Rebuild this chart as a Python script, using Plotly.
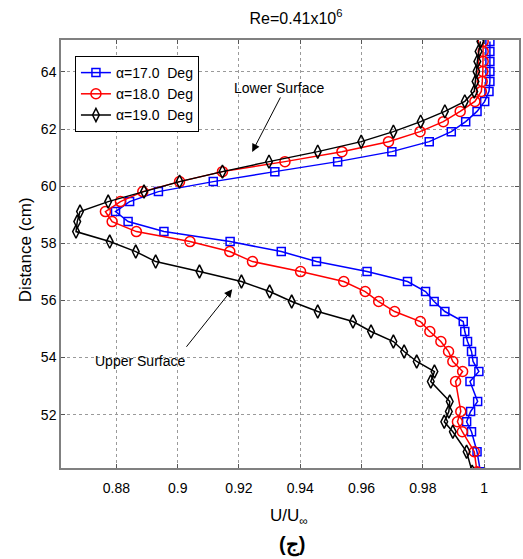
import plotly.graph_objects as go

# Measurement stations across the wake (cm)
dist_17 = [65.07, 64.72, 64.37, 64.02, 63.67, 63.32, 62.97, 62.62, 62.26, 61.91,
           61.56, 61.21, 60.86, 60.51, 60.16, 59.81, 59.46, 59.11, 58.76, 58.41,
           58.06, 57.71, 57.36, 57.01, 56.66, 56.31, 55.96, 55.61, 55.26, 54.91,
           54.56, 54.21, 53.86, 53.51, 53.16, 52.46, 52.11, 51.75, 51.40, 50.70, 50.00]
u_17 = [1.0019, 1.0019, 1.0019, 1.0019, 1.0019, 1.0016, 1.0002, 0.9977, 0.9940, 0.9893,
        0.9821, 0.9699, 0.9522, 0.9317, 0.9116, 0.8937, 0.8843, 0.8797, 0.8838, 0.8955,
        0.9171, 0.9338, 0.9453, 0.9618, 0.9750, 0.9809, 0.9837, 0.9872, 0.9932, 0.9937,
        0.9946, 0.9959, 0.9964, 0.9983, 0.9954, 0.9979, 0.9956, 0.9943, 0.9959, 0.9977, 0.9988]

dist_18 = [65.07, 64.72, 64.37, 64.02, 63.67, 63.32, 62.97, 62.62, 62.26, 61.91,
           61.56, 61.21, 60.86, 60.51, 60.16, 59.81, 59.46, 59.11, 58.76, 58.41,
           58.06, 57.71, 57.36, 57.01, 56.66, 56.31, 55.96, 55.61, 55.26, 54.91,
           54.56, 54.21, 53.86, 53.51, 53.16, 52.11, 51.75, 51.40, 50.70, 50.00]
u_18 = [0.9997, 0.9997, 0.9997, 0.9996, 0.9994, 0.9991, 0.9970, 0.9922, 0.9867, 0.9791,
        0.9688, 0.9536, 0.9350, 0.9146, 0.9006, 0.8886, 0.8813, 0.8764, 0.8786, 0.8865,
        0.9040, 0.9170, 0.9244, 0.9401, 0.9542, 0.9612, 0.9656, 0.9708, 0.9792, 0.9823,
        0.9859, 0.9884, 0.9898, 0.9930, 0.9907, 0.9924, 0.9913, 0.9929, 0.9968, 0.9977]

dist_19 = [65.07, 64.72, 64.37, 64.02, 63.67, 63.32, 62.97, 62.62, 62.26, 61.91,
           61.56, 61.21, 60.86, 60.51, 60.16, 59.81, 59.46, 59.11, 58.76, 58.41,
           58.06, 57.71, 57.36, 57.01, 56.66, 56.31, 55.96, 55.61, 55.26, 54.91,
           54.56, 54.21, 53.86, 53.51, 53.16, 52.46, 52.11, 51.75, 51.40, 50.70, 50.00]
u_19 = [0.9988, 0.9982, 0.9978, 0.9975, 0.9972, 0.9968, 0.9937, 0.9872, 0.9793, 0.9704,
        0.9599, 0.9457, 0.9298, 0.9146, 0.9006, 0.8890, 0.8773, 0.8681, 0.8672, 0.8668,
        0.8778, 0.8863, 0.8928, 0.9071, 0.9208, 0.9300, 0.9372, 0.9457, 0.9572, 0.9631,
        0.9704, 0.9739, 0.9780, 0.9838, 0.9826, 0.9888, 0.9885, 0.9870, 0.9898, 0.9943, 0.9961]

series_names = ["\u03b1=17.0  Deg", "\u03b1=18.0  Deg", "\u03b1=19.0  Deg"]
x_ticks = [0.88, 0.90, 0.92, 0.94, 0.96, 0.98, 1.00]
x_tick_text = ["0.88", "0.9", "0.92", "0.94", "0.96", "0.98", "1"]
y_ticks = [52, 54, 56, 58, 60, 62, 64]

FONT = "Liberation Sans, Arial, sans-serif"

fig = go.Figure()
fig.add_trace(go.Scatter(
    x=u_17, y=dist_17, mode="lines+markers", name=series_names[0],
    line=dict(color="#0000ff", width=1.5),
    marker=dict(symbol="square-open", size=8, color="#0000ff", line=dict(width=1.5)),
))
fig.add_trace(go.Scatter(
    x=u_18, y=dist_18, mode="lines+markers", name=series_names[1],
    line=dict(color="#ff0000", width=1.5),
    marker=dict(symbol="circle-open", size=10, color="#ff0000", line=dict(width=1.5)),
))
fig.add_trace(go.Scatter(
    x=u_19, y=dist_19, mode="lines+markers", name=series_names[2],
    line=dict(color="#000000", width=1.5),
    marker=dict(symbol="diamond-tall-open", size=9.5, color="#000000", line=dict(width=1.5)),
))

axis_common = dict(
    showgrid=True, gridcolor="#9a9a9a", gridwidth=1, griddash="dot",
    showline=True, linecolor="#808080", linewidth=1.5, mirror="ticks",
    ticks="inside", ticklen=4, tickcolor="#555555", tickwidth=1,
    zeroline=False, tickfont=dict(family=FONT, size=14, color="#000000"),
)

fig.update_xaxes(range=[0.8619, 1.0114], tickvals=x_ticks, ticktext=x_tick_text,
                 ticklabelstandoff=6, **axis_common)
fig.update_yaxes(range=[50.13, 65.12], tickvals=y_ticks, **axis_common)

W, H = 523, 559
L, R, T, B = 61, 2, 40, 91
pw, ph = W - L - R, H - T - B


def px_to_paper(px, py):
    return (px - L) / pw, (H - B - py) / ph


annotations = [
    dict(text="Lower Surface", x=0.9331, y=63.45, xref="x", yref="y", showarrow=False,
         font=dict(family=FONT, size=14, color="#000000")),
    dict(text="", x=0.9243, y=61.20, xref="x", yref="y", showarrow=True,
         ax=29, ay=-56, arrowhead=2, arrowsize=1.6, arrowwidth=1, arrowcolor="#000000"),
    dict(text="Upper Surface", x=0.8876, y=53.87, xref="x", yref="y", showarrow=False,
         font=dict(family=FONT, size=14, color="#000000")),
    dict(text="", x=0.9178, y=56.39, xref="x", yref="y", showarrow=True,
         ax=-47, ay=59, arrowhead=2, arrowsize=1.6, arrowwidth=1, arrowcolor="#000000"),
]

# axis titles and panel tag, placed in page pixels
page_labels = [
    ("Distance (cm)", 25, 250, -90, 17, False),
    ("U/U<sub>\u221e</sub>", 290, 517, 0, 17, False),
    ("(\u062c)", 293, 545, 0, 20, True),
]
for text, px, py, ang, size, bold in page_labels:
    xp, yp = px_to_paper(px, py)
    annotations.append(dict(
        text=f"<b>{text}</b>" if bold else text, x=xp, y=yp, xref="paper", yref="paper",
        xanchor="center", yanchor="middle", showarrow=False, textangle=ang,
        font=dict(family=FONT, size=size, color="#000000"),
    ))

lx, ly = px_to_paper(75, 56)

fig.update_layout(
    width=W, height=H,
    margin=dict(l=L, r=R, t=T, b=B),
    paper_bgcolor="#ffffff", plot_bgcolor="#ffffff",
    font=dict(family=FONT, size=14, color="#000000"),
    title=dict(text="Re=0.41x10<sup>6</sup>", x=296 / W, xanchor="center",
               y=1 - 18 / H, yanchor="middle", font=dict(family=FONT, size=16, color="#000000")),
    showlegend=True,
    legend=dict(x=lx, y=ly, xanchor="left", yanchor="top",
                bgcolor="#ffffff", bordercolor="#000000", borderwidth=1,
                font=dict(family=FONT, size=14, color="#000000"), tracegroupgap=0),
    annotations=annotations,
)

fig.write_html("out.html")
